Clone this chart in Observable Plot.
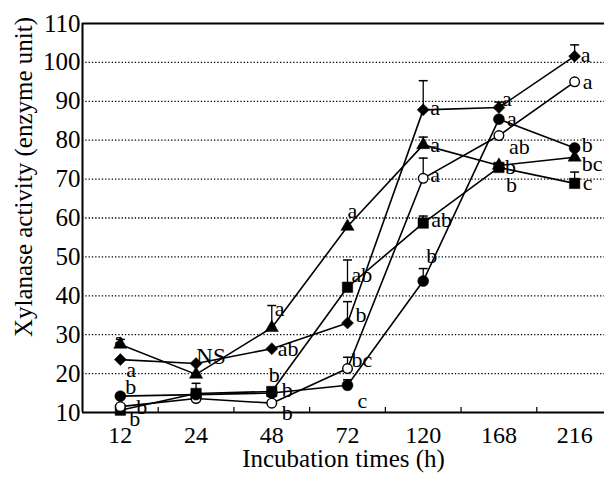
<!DOCTYPE html>
<html><head><meta charset="utf-8">
<script src="https://cdn.jsdelivr.net/npm/d3@7"></script>
<script src="https://cdn.jsdelivr.net/npm/@observablehq/plot@0.6"></script>
<style>html,body{margin:0;background:#fff}svg{display:block}</style>
</head><body><div id="chart"></div>
<script>
// ---- data ----
const categories = ["12", "24", "48", "72", "120", "168", "216"];
const yTicks = [10, 20, 30, 40, 50, 60, 70, 80, 90, 100, 110];
const gridValues = [20, 30, 40, 50, 60, 70, 80, 90, 100];

const diamondValues      = [23.6, 22.6, 26.4, 33.0, 87.8, 88.4, 101.6];
const triangleValues     = [27.5, 19.8, 31.8, 57.8, 78.8, 73.5, 75.6];
const squareValues       = [10.6, 14.9, 15.4, 42.2, 58.7, 73.0, 68.9];
const openCircleValues   = [11.5, 13.6, 12.4, 21.3, 70.2, 81.2, 95.0];
const filledCircleValues = [14.2, 14.6, 15.0, 17.0, 43.8, 85.4, 78.0];

const diamondUpper      = [null, null, null, 38.5, 95.3, 89.8, 104.5];
const triangleUpper     = [28.8, null, 37.5, null, 80.8, null, null];
const squareUpper       = [null, 17.5, null, 49.2, 60.5, null, 71.8];
const openCircleUpper   = [null, null, null, 24.2, 75.4, null, null];
const filledCircleUpper = [null, null, null, 18.4, 47.0, null, null];

const diamondLetters      = ["a", "", "ab", "b", "a", "a", "a"];
const triangleLetters     = ["a", "", "a", "a", "a", "b", "bc"];
const squareLetters       = ["b", "", "b", "ab", "ab", "b", "c"];
const openCircleLetters   = ["b", "", "b", "bc", "a", "ab", "a"];
const filledCircleLetters = ["b", "", "b", "c", "b", "a", "b"];
const noteText = "NS";

const xTitle = "Incubation times (h)";
const yTitle = "Xylanase activity (enzyme unit)";

// ---- layout (pixel offsets of the letters) ----
const letterOffsets = {
  diamond:      [[6, 10], null, [6, 0], [8, -8], [7, -2], [3, -9], [6, -1]],
  triangle:     [[-6, -4], null, [3, -19], [0, -16], [7, 0], [7, 19], [7, 7]],
  square:       [[9, 9], null, [-3, -17], [4, -12], [8, -3], [6, 0], [8, 0]],
  openCircle:   [[16, 0], null, [10, 10], [4, -9], [7, -3], [10, 11], [8, 0]],
  filledCircle: [[5, -9], null, [10, -3], [10, 16], [3, -25], [8, 0], [7, -3]]
};

const series = [
  {name: "diamond", values: diamondValues, upper: diamondUpper, letters: diamondLetters, symbol: "diamond2", r: 5.4, fill: "black"},
  {name: "triangle", values: triangleValues, upper: triangleUpper, letters: triangleLetters, symbol: "triangle", r: 4.9, fill: "black"},
  {name: "square", values: squareValues, upper: squareUpper, letters: squareLetters, symbol: "square", r: 5.9, fill: "black"},
  {name: "openCircle", values: openCircleValues, upper: openCircleUpper, letters: openCircleLetters, symbol: "circle", r: 4.8, fill: "white"},
  {name: "filledCircle", values: filledCircleValues, upper: filledCircleUpper, letters: filledCircleLetters, symbol: "circle", r: 5.5, fill: "black"}
];

const rows = series.flatMap(s => categories.map((c, i) => ({
  series: s.name, i, value: s.values[i], upper: s.upper[i], letter: s.letters[i]
})));

const capSymbol = {draw(context, size) { const w = 4.5; context.moveTo(-w, 0); context.lineTo(w, 0); }};

const xIdx = d3.range(categories.length);
const mids = d3.range(categories.length - 1).map(i => i + 0.5);
const xDomain = [-0.5, categories.length - 0.5];
const yDomain = [yTicks[0], yTicks[yTicks.length - 1]];

const marks = [
  Plot.ruleY(gridValues, {stroke: "black", strokeWidth: 1.3, strokeDasharray: "1.3,2"}),
  Plot.ruleY(yDomain, {stroke: "black", strokeWidth: 2}),
  Plot.ruleX([xDomain[0]], {stroke: "black", strokeWidth: 2}),
  Plot.axisX({ticks: mids, tickSize: 5, dy: -5, tickFormat: () => "", strokeWidth: 1.2, label: null}),
  Plot.axisX({ticks: xIdx, tickSize: 0, tickPadding: 13, tickFormat: i => categories[i],
              label: null, fill: "black", fontSize: 24}),
  Plot.axisY({ticks: yTicks, tickSize: 0, tickPadding: 2, tickFormat: d => d, label: null, fill: "black", fontSize: 25}),
  Plot.text([xTitle], {frameAnchor: "bottom", dy: 46, textAnchor: "middle", lineAnchor: "middle", fill: "black", fontSize: 25}),
  Plot.text([yTitle], {frameAnchor: "left", rotate: -90, dx: -59, dy: -41, textAnchor: "middle", lineAnchor: "middle", fill: "black", fontSize: 25}),
  Plot.ruleX(rows.filter(d => d.upper != null), {x: "i", y1: "value", y2: "upper", stroke: "black", strokeWidth: 1.3}),
  Plot.dot(rows.filter(d => d.upper != null), {x: "i", y: "upper", symbol: capSymbol, stroke: "black", strokeWidth: 1.5, r: 3}),
  Plot.line(rows, {x: "i", y: "value", z: "series", stroke: "black", strokeWidth: 1.6})
];

for (const s of series) {
  const data = rows.filter(d => d.series === s.name);
  marks.push(Plot.dot(data, {x: "i", y: "value", symbol: s.symbol, r: s.r, fill: s.fill, stroke: "black", strokeWidth: s.fill === "white" ? 1.4 : 0.5}));
  data.forEach((d, i) => {
    const off = letterOffsets[s.name][i];
    if (!d.letter || !off) return;
    marks.push(Plot.text([d], {x: "i", y: "value", text: "letter", dx: off[0], dy: off[1],
      textAnchor: "start", fill: "black", fontSize: 22}));
  });
}
// NS note sits by the 24 h cluster
marks.push(Plot.text(rows.filter(d => d.series === "diamond" && d.i === 1), {x: "i", y: "value", text: () => noteText, dx: 15, dy: -7, textAnchor: "middle", fill: "black", fontSize: 23}));

const chart = Plot.plot({
  width: 604,
  height: 485,
  marginLeft: 82,
  marginRight: 0,
  marginTop: 23,
  marginBottom: 73,
  style: {fontFamily: "'Liberation Serif', 'Times New Roman', serif", fontSize: "23px", background: "white", color: "black"},
  x: {type: "linear", domain: xDomain, range: [82, 612]},
  y: {type: "linear", domain: yDomain},
  marks
});
document.getElementById("chart").appendChild(chart);
</script>
</body></html>
